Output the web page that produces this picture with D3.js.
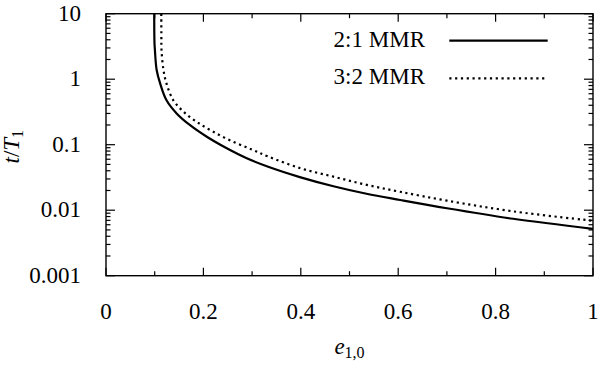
<!DOCTYPE html>
<html>
<head>
<meta charset="utf-8">
<script src="https://cdn.jsdelivr.net/npm/d3@7"></script>
<style>
  body { margin: 0; background: #fff; }
</style>
</head>
<body>
<svg width="600" height="366"></svg>
<script>
// values
var eMMR21 = [0.0990, 0.0992, 0.0996, 0.1004, 0.104, 0.111, 0.124, 0.145, 0.172, 0.207, 0.248, 0.289, 0.333, 0.398, 0.467, 0.535, 0.604, 0.700, 0.836, 1.000];
var tMMR21 = [10, 5.0, 3.5, 2.8, 1.38, 0.87, 0.48, 0.30, 0.20, 0.132, 0.088, 0.062, 0.046, 0.0320, 0.0232, 0.0178, 0.0143, 0.0107, 0.0074, 0.0052];
var eMMR32 = [0.1135, 0.1137, 0.1140, 0.118, 0.124, 0.138, 0.159, 0.186, 0.220, 0.261, 0.302, 0.333, 0.398, 0.467, 0.535, 0.604, 0.700, 0.836, 1.000];
var tMMR32 = [10, 5.0, 2.8, 1.38, 0.87, 0.48, 0.32, 0.224, 0.158, 0.111, 0.083, 0.066, 0.0440, 0.0325, 0.0244, 0.0191, 0.0140, 0.0096, 0.0069];
var seriesNames = ["2:1 MMR", "3:2 MMR"];
var xTickValues = [0, 0.2, 0.4, 0.6, 0.8, 1];
var xMinorValues = [0.1, 0.3, 0.5, 0.7, 0.9];
var yTickValues = [0.001, 0.01, 0.1, 1, 10];
var yTickLabels = ["0.001", "0.01", "0.1", "1", "10"];

var serif = "'Liberation Serif', 'DejaVu Serif', 'Noto Serif', Tinos, 'Times New Roman', Times, FreeSerif, serif";

var svg = d3.select("svg"),
    margin = {top: 13.7, right: 7, bottom: 90.3, left: 106},
    width = +svg.attr("width") - margin.left - margin.right,
    height = +svg.attr("height") - margin.top - margin.bottom;

var x = d3.scaleLinear().domain([0, 1]).range([0, width]);
var y = d3.scaleLog().domain([0.001, 10]).range([height, 0]);

var g = svg.append("g").attr("transform", "translate(" + margin.left + "," + margin.top + ")");

// minor log ticks 2..9 per decade
var yMinorValues = [];
yTickValues.slice(0, -1).forEach(function(d) {
    for (var k = 2; k <= 9; k++) yMinorValues.push(d * k);
});

var frame = g.append("g").attr("stroke", "#000").attr("stroke-width", 1.2);

// ticks, mirrored on all four sides
function tick(x1, y1, x2, y2) {
    frame.append("line").attr("x1", x1).attr("y1", y1).attr("x2", x2).attr("y2", y2);
}
xTickValues.forEach(function(d) {
    tick(x(d), height, x(d), height - 8);
    tick(x(d), 0, x(d), 8);
});
xMinorValues.forEach(function(d) {
    tick(x(d), height, x(d), height - 4.5);
    tick(x(d), 0, x(d), 4.5);
});
yTickValues.forEach(function(d) {
    tick(0, y(d), 9, y(d));
    tick(width, y(d), width - 9, y(d));
});
yMinorValues.forEach(function(d) {
    tick(0, y(d), 4.5, y(d));
    tick(width, y(d), width - 4.5, y(d));
});

// tick labels
g.selectAll(".xlab")
    .data(xTickValues)
    .enter().append("text")
    .attr("class", "xlab")
    .attr("x", function(d) { return x(d); })
    .attr("y", height + 43.5)
    .attr("text-anchor", "middle")
    .style("font-family", serif)
    .attr("font-size", 23)
    .text(function(d) { return d3.format("")(d); });

g.selectAll(".ylab")
    .data(yTickValues)
    .enter().append("text")
    .attr("class", "ylab")
    .attr("x", -25)
    .attr("y", function(d) { return y(d) + 7; })
    .attr("text-anchor", "end")
    .style("font-family", serif)
    .attr("font-size", 23)
    .text(function(d, i) { return yTickLabels[i]; });

// axis titles
var xt = svg.append("text")
    .attr("x", margin.left + width / 2)
    .attr("y", 354)
    .attr("text-anchor", "middle")
    .style("font-family", serif)
    .attr("font-size", 23);
xt.append("tspan").attr("font-style", "italic").text("e");
xt.append("tspan").attr("font-size", 16).attr("dy", 4).text("1,0");

var yt = svg.append("text")
    .attr("transform", "translate(19," + (margin.top + height / 2 + 2) + ") rotate(-90)")
    .attr("text-anchor", "middle")
    .style("font-family", serif)
    .attr("font-size", 23);
yt.append("tspan").attr("font-style", "italic").text("t");
yt.append("tspan").text("/");
yt.append("tspan").attr("font-style", "italic").text("T");
yt.append("tspan").attr("font-size", 16).attr("dy", 4).text("1");

// curves
var line = d3.line()
    .x(function(d) { return x(d[0]); })
    .y(function(d) { return y(d[1]); })
    .curve(d3.curveCatmullRom.alpha(0.5));

g.append("clipPath").attr("id", "clip")
    .append("rect").attr("width", width).attr("height", height);

g.append("path")
    .datum(d3.zip(eMMR21, tMMR21))
    .attr("clip-path", "url(#clip)")
    .attr("fill", "none")
    .attr("stroke", "#000")
    .attr("stroke-width", 2.2)
    .attr("d", line);

g.append("path")
    .datum(d3.zip(eMMR32, tMMR32))
    .attr("clip-path", "url(#clip)")
    .attr("fill", "none")
    .attr("stroke", "#000")
    .attr("stroke-width", 2.2)
    .attr("stroke-dasharray", "2.2,3.6")
    .attr("d", line);

// frame on top
g.append("rect")
    .attr("width", width)
    .attr("height", height)
    .attr("fill", "none")
    .attr("stroke", "#000")
    .attr("stroke-width", 1.4);

// legend
var legend = svg.append("g");
seriesNames.forEach(function(name, i) {
    var ly = 40.7 + i * 37.6;
    legend.append("text")
        .attr("x", 425)
        .attr("y", ly + 6)
        .attr("text-anchor", "end")
        .style("font-family", serif)
        .attr("font-size", 23)
        .text(name);
    legend.append("line")
        .attr("x1", 449.3).attr("x2", 547.7)
        .attr("y1", ly).attr("y2", ly)
        .attr("stroke", "#000")
        .attr("stroke-width", 2.2)
        .attr("stroke-dasharray", i === 1 ? "2.2,3.6" : null);
});
</script>
</body>
</html>
